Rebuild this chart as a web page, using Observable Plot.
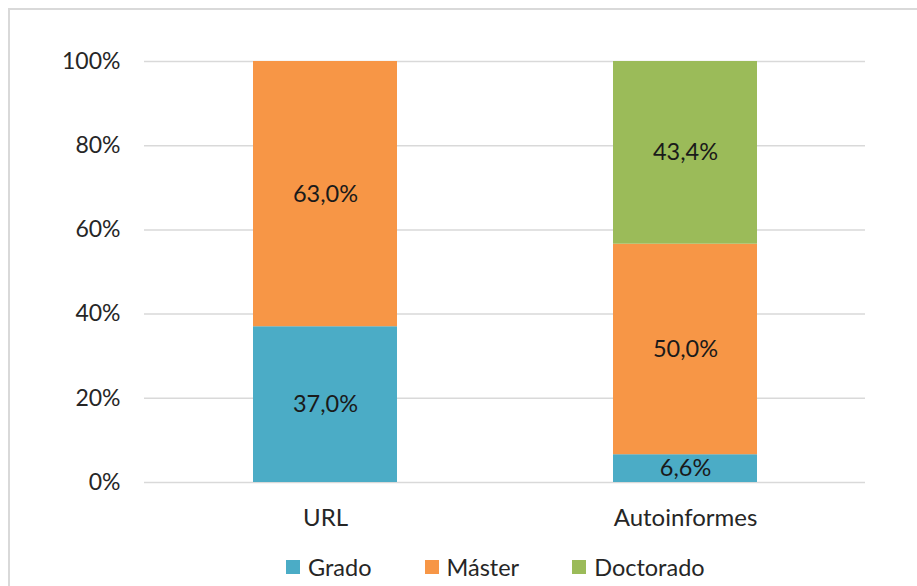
<!DOCTYPE html>
<html><head><meta charset="utf-8">
<script src="https://cdn.jsdelivr.net/npm/d3@7"></script>
<script src="https://cdn.jsdelivr.net/npm/@observablehq/plot@0.6"></script>
<style>
html,body{margin:0;padding:0;background:#fff;overflow:hidden;width:917px;height:586px}
#wrap{position:relative;width:917px;height:586px;font-family:Lato,sans-serif;overflow:hidden}
#frame{position:absolute;left:8px;top:8px;width:1000px;height:700px;border-left:2px solid #d9d9d9;border-top:2px solid #d9d9d9;box-sizing:border-box}
#chart{position:absolute;left:0;top:0}
#legend{position:absolute;left:286px;top:552px}
.lg-swatches{font-family:Lato,sans-serif !important;font-size:23.5px !important;color:#262626 !important;margin:0 !important;min-height:30px !important}
.lg-swatch{margin-right:53px !important}
.lg-swatch > svg{margin-right:8px !important}
</style></head><body>
<div id="wrap"><div id="frame"></div><div id="chart"></div><div id="legend"></div></div>
<script>
const categories = ["URL", "Autoinformes"];
const levels = ["Grado", "Máster", "Doctorado"];
const colors = ["#4BACC6", "#F79646", "#9BBB59"];
const urlValues = [37.0, 63.0, 0];
const autoValues = [6.6, 50.0, 43.4];
const yTicks = [0, 20, 40, 60, 80, 100];

const seriesByCategory = [urlValues, autoValues];
const data = [];
categories.forEach((c, i) => {
  levels.forEach((l, j) => {
    const v = seriesByCategory[i][j];
    if (v > 0) data.push({category: c, level: l, value: v});
  });
});
const fmt = v => v.toFixed(1).replace(".", ",") + "%";

const plot = Plot.plot({
  width: 917, height: 586,
  marginLeft: 144, marginRight: 52, marginTop: 61, marginBottom: 104,
  style: {fontFamily: "Lato, sans-serif", fontSize: "23px", color: "#262626", background: "transparent", overflow: "visible"},
  x: {domain: categories, paddingInner: 0.6, paddingOuter: 0.3, label: null},
  y: {domain: [0, 100], label: null},
  color: {domain: levels, range: colors},
  marks: [
    Plot.gridY(yTicks, {stroke: "#d9d9d9", strokeOpacity: 1, strokeWidth: 1.5}),
    Plot.barY(data, {x: "category", y: "value", fill: "level", z: "level"}),
    Plot.text(data, Plot.stackY({x: "category", y: "value", z: "level", text: d => fmt(d.value), fill: "#1a1a1a", fontSize: 23.5})),
    Plot.axisY(yTicks, {tickSize: 0, tickPadding: 24, tickFormat: d => d + "%", fontSize: 23, fill: "#262626"}),
    Plot.axisX({tickSize: 0, tickPadding: 26, fontSize: 24, fill: "#262626"})
  ]
});
document.getElementById("chart").appendChild(plot);

const legend = Plot.legend({
  color: {domain: levels, range: colors},
  className: "lg",
  swatchSize: 14
});
document.getElementById("legend").appendChild(legend);
</script>
</body></html>
